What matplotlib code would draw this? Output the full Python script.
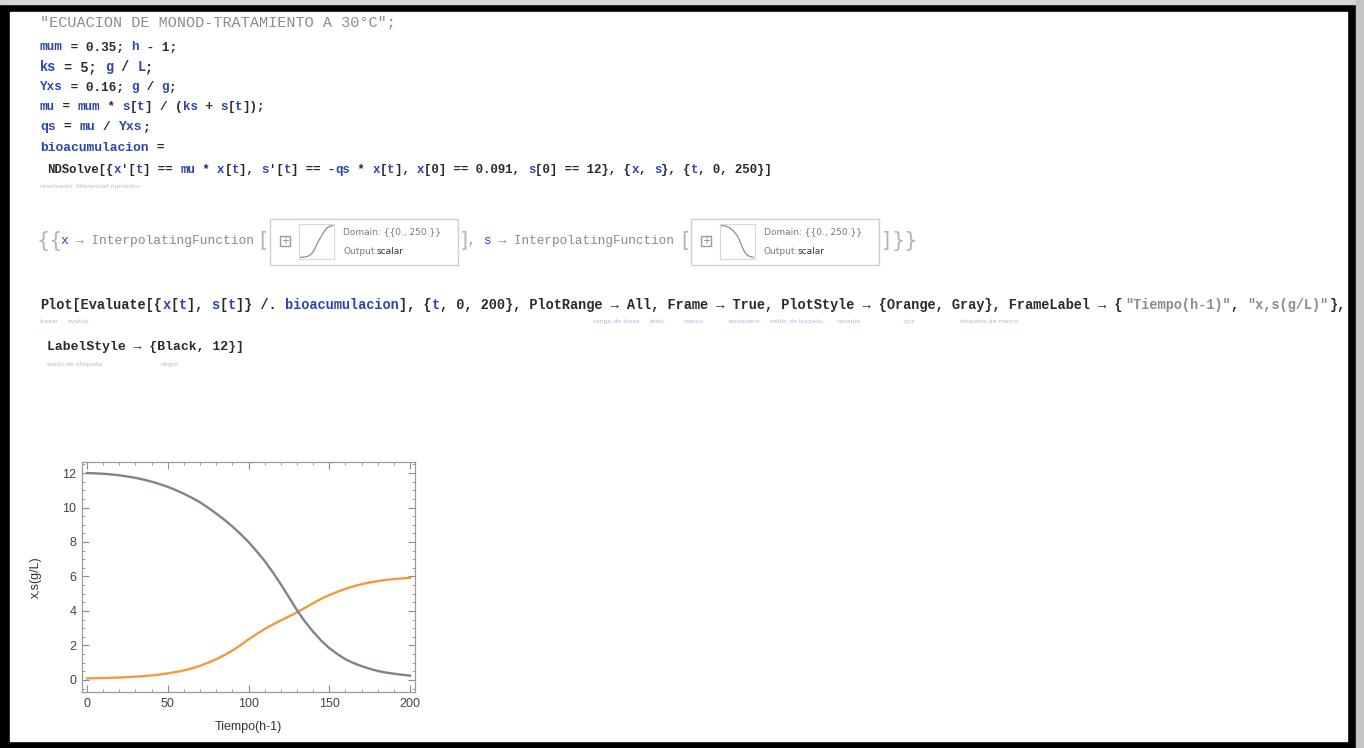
import matplotlib
matplotlib.use("Agg")
import matplotlib.pyplot as plt
from matplotlib.patches import Rectangle
from matplotlib.ticker import MultipleLocator

# values, every 5 h
tiempo = list(range(0, 205, 5))
biomasa_x = [0.09, 0.10, 0.11, 0.125, 0.14, 0.16, 0.19, 0.22, 0.26, 0.31,
             0.38, 0.46, 0.55, 0.67, 0.82, 1.00, 1.20, 1.44, 1.70, 2.01,
             2.35, 2.66, 2.95, 3.21, 3.45, 3.68, 3.92, 4.18, 4.45, 4.70,
             4.92, 5.11, 5.28, 5.43, 5.55, 5.65, 5.73, 5.80, 5.85, 5.89, 5.92]
sustrato_s = [12.0, 11.98, 11.96, 11.92, 11.87, 11.80, 11.72, 11.62, 11.50, 11.36,
              11.20, 11.01, 10.80, 10.56, 10.30, 9.99, 9.65, 9.29, 8.90, 8.47,
              8.00, 7.47, 6.90, 6.25, 5.55, 4.80, 4.05, 3.38, 2.80, 2.28,
              1.85, 1.50, 1.20, 0.98, 0.80, 0.65, 0.52, 0.43, 0.36, 0.30, 0.25]

x_ticks = [0, 50, 100, 150, 200]
y_ticks = [0, 2, 4, 6, 8, 10, 12]

W, H = 1364, 748
MONO = ["Liberation Mono", "DejaVu Sans Mono"]
K = "#2a2a2a"      # built-ins / numbers
B = "#2c44b0"      # user symbols
G = "#8c8c8c"      # strings
O = "#8a8a8a"      # output text
T = "#a8bdd3"      # tooltips

fig = plt.figure(figsize=(W / 100, H / 100), dpi=100)
fig.patch.set_facecolor("black")

# page overlay in pixel coordinates
page = fig.add_axes([0, 0, 1, 1])
page.set_xlim(0, W)
page.set_ylim(H, 0)
page.axis("off")
page.add_patch(Rectangle((0, 0), W, 4, color="#d6d6d6"))
page.add_patch(Rectangle((1356, 0), 8, H, color="#c4c4c4"))
page.add_patch(Rectangle((10, 12), 1337, 729, color="white"))


def code(x, y, parts, cw=7.8, weight="bold"):
    size = cw * 1.2
    for txt, col in parts:
        page.text(x, y, txt, color=col, fontsize=size, family=MONO,
                  weight=weight, va="center", ha="left")
        x += len(txt) * cw


def tip(x, y, txt):
    page.text(x, y, txt, color=T, fontsize=4.5, family="DejaVu Sans",
              va="center", ha="left")


def bracket(x, y, txt):
    page.text(x, y, txt, color="#b4b4b4", fontsize=15, family="DejaVu Sans",
              va="center", ha="left")


code(40, 22, [('"ECUACION DE MONOD-TRATAMIENTO A 30°C";', G)], cw=9.1, weight="normal")
code(40, 47, [("mum", B), (" = 0.35; ", K), ("h", B), (" - 1;", K)], cw=7.6)
code(40, 67, [("ks", B), (" = 5; ", K), ("g", B), (" / ", K), ("L", B), (";", K)], cw=8.1)
code(40, 87, [("Yxs", B), (" = 0.16; ", K), ("g", B), (" / ", K), ("g", B), (";", K)], cw=7.6)
code(40, 107, [("mu", B), (" = ", K), ("mum", B), (" * ", K), ("s", B), ("[", K), ("t", B),
               ("] / (", K), ("ks", B), (" + ", K), ("s", B), ("[", K), ("t", B), ("]);", K)], cw=7.5)
code(40, 127, [("qs", B), (" = ", K), ("mu", B), (" / ", K), ("Yxs", B), (";", K)], cw=7.9)
code(40, 148, [("bioacumulacion", B), (" =", K)], cw=7.8)
code(47, 170, [("NDSolve[{", K), ("x", B), ("'[", K), ("t", B), ("] == ", K), ("mu", B), (" * ", K),
               ("x", B), ("[", K), ("t", B), ("], ", K), ("s", B), ("'[", K), ("t", B), ("] == -", K),
               ("qs", B), (" * ", K), ("x", B), ("[", K), ("t", B), ("], ", K), ("x", B),
               ("[0] == 0.091, ", K), ("s", B), ("[0] == 12}, {", K), ("x", B), (", ", K), ("s", B),
               ("}, {", K), ("t", B), (", 0, 250}]", K)], cw=7.4)
tip(40, 186, "resolvedor diferencial numérico")

# output cell: {{x -> InterpolatingFunction[...], s -> InterpolatingFunction[...]}}
bracket(36, 241, "{{")
code(60, 241, [("x", B), (" → InterpolatingFunction", O)], cw=7.8, weight="normal")
bracket(259, 241, "[")
bracket(460, 241, "]")
code(468, 241, [(", ", O), ("s", B), (" → InterpolatingFunction", O)], cw=7.6, weight="normal")
bracket(681, 241, "[")
bracket(882, 241, "]")
bracket(891, 241, "}}")

for bx, serie in [(270, biomasa_x), (691, sustrato_s)]:
    page.add_patch(Rectangle((bx, 219), 188, 46, fill=False, ec="#cfcfcf", lw=1))
    page.add_patch(Rectangle((bx + 10, 236), 10, 10, fill=False, ec="#9a9a9a", lw=1))
    page.text(bx + 15, 241, "+", color="#8a8a8a", fontsize=7, ha="center", va="center")
    th = fig.add_axes([(bx + 29) / W, 1 - 259 / H, 35 / W, 35 / H])
    th.plot(tiempo, serie, color="#8a9aad", lw=1)
    th.set_xticks([])
    th.set_yticks([])
    for sp in th.spines.values():
        sp.set_color("#d8d8d8")
    page.text(bx + 73, 232, "Domain: {{0., 250.}}", color="#7a7a7a", fontsize=6.5,
              family="DejaVu Sans", va="center")
    page.text(bx + 73, 251, "Output:", color="#7a7a7a", fontsize=6.5,
              family="DejaVu Sans", va="center")
    page.text(bx + 107, 251, "scalar", color="#333333", fontsize=6.5,
              family="DejaVu Sans", va="center")

code(40, 305, [("Plot[Evaluate[{", K), ("x", B), ("[", K), ("t", B), ("], ", K), ("s", B), ("[", K),
               ("t", B), ("]} /. ", K), ("bioacumulacion", B), ("], {", K), ("t", B),
               (", 0, 200}, PlotRange → All, Frame → True, PlotStyle → {Orange, Gray}, FrameLabel → {", K),
               ('"Tiempo(h-1)"', G), (", ", K), ('"x,s(g/L)"', G), ("},", K)], cw=8.16)
for tx, tt in [(40, "trazar"), (68, "evalúa"), (593, "rango de trazo"), (650, "todo"),
               (683, "marco"), (728, "verdadero"), (770, "estilo de trazado"),
               (836, "naranja"), (904, "gris"), (960, "etiqueta de marco")]:
    tip(tx, 321, tt)
code(47, 347, [("LabelStyle → {Black, 12}]", K)], cw=7.9)
tip(47, 364, "estilo de etiqueta")
tip(160, 364, "negro")

# the Mathematica plot
ax = fig.add_axes([82 / W, 1 - 692 / H, (415 - 82) / W, (692 - 462) / H])
ax.plot(tiempo, biomasa_x, color="#f29a3c", lw=1.7)
ax.plot(tiempo, sustrato_s, color="#7e8392", lw=1.7)
ax.set_xlim(-3.1, 203.1)
ax.set_ylim(-0.7, 12.64)
ax.set_xticks(x_ticks)
ax.set_yticks(y_ticks)
ax.xaxis.set_minor_locator(MultipleLocator(10))
ax.yaxis.set_minor_locator(MultipleLocator(0.5))
ax.tick_params(which="both", direction="in", top=True, right=True, color="#8c8c8c")
ax.tick_params(which="major", length=5, width=0.8, labelsize=9, labelcolor="#444444", pad=4)
ax.tick_params(which="minor", length=2.5, width=0.6)
for lab in ax.get_xticklabels() + ax.get_yticklabels():
    lab.set_family("Liberation Sans")
for sp in ax.spines.values():
    sp.set_color("#9a9a9a")
    sp.set_linewidth(0.9)
ax.set_xlabel("Tiempo(h-1)", fontsize=9, family="Liberation Sans", color="#333333", labelpad=8)
ax.set_ylabel("x,s(g/L)", fontsize=9, family="Liberation Sans", color="#333333", labelpad=15)

fig.savefig("out.png", dpi=100, facecolor=fig.get_facecolor())
